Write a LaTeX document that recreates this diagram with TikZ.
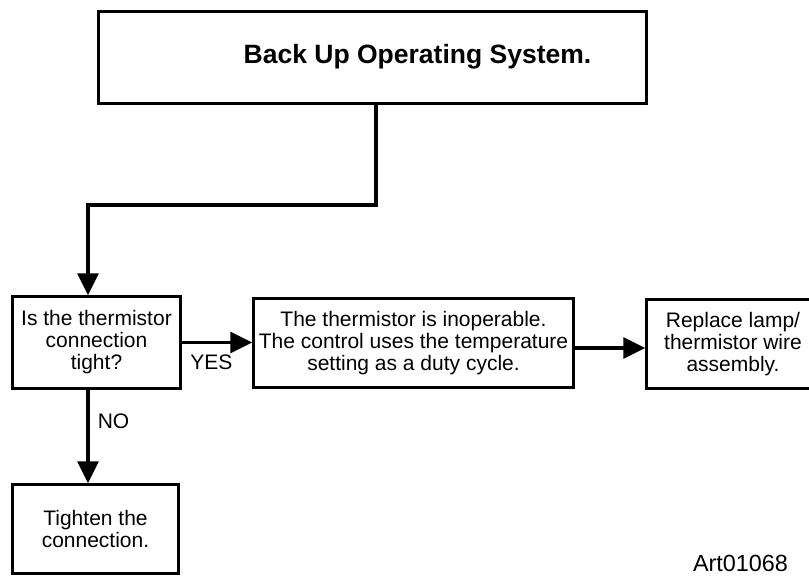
\documentclass[tikz,border=0pt]{standalone}
\usepackage{fontspec}
\setmainfont{Liberation Sans}
\usetikzlibrary{arrows.meta}
\tikzset{
  box/.style={draw, line width=2.5pt, align=center, inner sep=0pt, font=\fontsize{21}{22}\selectfont},
  conn/.style={line width=3.5pt, -{Triangle[length=22pt,width=21pt]}},
  lbl/.style={font=\fontsize{21}{22}\selectfont, inner sep=2pt}
}
\begin{document}
\begin{tikzpicture}[x=1pt, y=-1pt]
\useasboundingbox (0,0) rectangle (809,578);
\node[box, minimum width=548pt, minimum height=92pt] (top) at (372.5,57.5) {};
\node[font=\bfseries\fontsize{26.5}{28}\selectfont] (title) at (417.5,57) {Back Up Operating System.};
\node[box, minimum width=168pt, minimum height=92pt] (therm) at (96.5,342.5) {Is the thermistor\\connection\\tight?};
\node[box, minimum width=320pt, minimum height=89pt] (inop) at (413.5,343) {The thermistor is inoperable.\\The control uses the temperature\\setting as a duty cycle.};
\node[box, minimum width=173pt, minimum height=89pt] (lamp) at (733,344) {Replace lamp/\\thermistor wire\\assembly.};
\node[box, minimum width=166pt, minimum height=89pt] (tight) at (95.5,529) {Tighten the\\connection.};
\node[font=\fontsize{23.4}{24}\selectfont] (art) at (740.5,563) {Art01068};
\coordinate (b1) at (376,205);
\coordinate (b2) at (88,205);
\coordinate (r) at (0,348);
\draw[conn] (top.south -| b1) -- (b1) -- (b2) -- (therm.north -| b2);
\draw[conn] (therm.east) -- (therm.east -| inop.west) node[lbl, pos=0.42, below, yshift=-9pt] {YES};
\draw[conn] (inop.east |- r) -- (lamp.west |- r);
\draw[conn] (therm.south -| b2) -- (tight.north -| b2) node[lbl, pos=0.34, right, xshift=6pt] {NO};
\end{tikzpicture}
\end{document}
